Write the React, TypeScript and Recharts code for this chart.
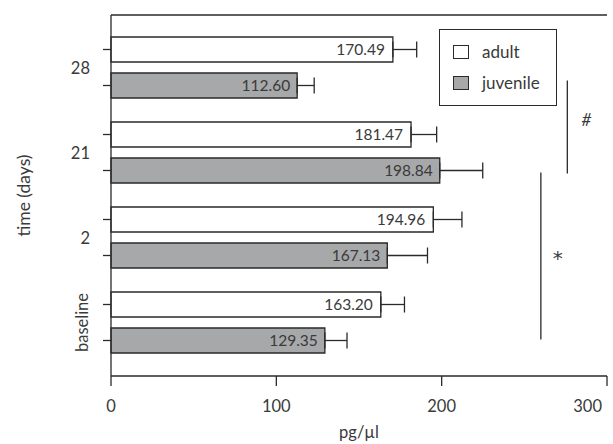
import React from 'react';
import { BarChart, Bar, XAxis, YAxis, ErrorBar, LabelList, Legend, ReferenceLine, Label } from 'recharts';

const categories = ['28', '21', '2', 'baseline'];
const adultValues = [170.49, 181.47, 194.96, 163.2];
const juvenileValues = [112.6, 198.84, 167.13, 129.35];
const adultErrors = [14.4, 15.5, 17.3, 14.3];
const juvenileErrors = [10.3, 26, 24.3, 13.4];
const xTicks = [0, 100, 200, 300];

const data = categories.map((c, i) => ({
  cat: c,
  adult: adultValues[i],
  juvenile: juvenileValues[i],
  adultErr: [0, adultErrors[i]],
  juvenileErr: [0, juvenileErrors[i]],
}));

const FONT = 'Lato, "Noto Sans", sans-serif';
const TEXT = '#3a3a3a';
const LINE = '#2a2a2a';
const GRAY = '#a7a8aa';

const YTick = (props: any) => {
  const { x, y, payload } = props;
  const axisX = x + 21;
  const isBase = payload.value === 'baseline';
  return (
    <g>
      <line x1={axisX - 8} x2={axisX} y1={y - 18} y2={y - 18} stroke={LINE} strokeWidth={1.3} />
      <line x1={axisX - 8} x2={axisX} y1={y + 18} y2={y + 18} stroke={LINE} strokeWidth={1.3} />
      {isBase ? (
        <text
          x={x - 8}
          y={y}
          transform={`rotate(-90, ${x - 8}, ${y})`}
          textAnchor="middle"
          dominantBaseline="central"
          fontSize={16.5}
          fontFamily={FONT}
          fill={TEXT}
        >
          {payload.value}
        </text>
      ) : (
        <text x={x} y={y} textAnchor="end" dominantBaseline="central" fontSize={16.5} fontFamily={FONT} fill={TEXT}>
          {payload.value}
        </text>
      )}
    </g>
  );
};

const XTick = (props: any) => {
  const { x, y, payload, index } = props;
  const last = index === xTicks.length - 1;
  return (
    <text
      x={last ? x + 1 : x}
      y={y}
      dy="0.71em"
      textAnchor={last ? 'end' : 'middle'}
      fontSize={16.5}
      fontFamily={FONT}
      fill={TEXT}
    >
      {payload.value}
    </text>
  );
};

const YTitle = (props: any) => {
  const { viewBox } = props;
  const cx = viewBox.x + 23;
  const cy = viewBox.y + viewBox.height / 2;
  return (
    <text
      x={cx}
      y={cy}
      transform={`rotate(-90, ${cx}, ${cy})`}
      textAnchor="middle"
      dominantBaseline="central"
      fontSize={17.5}
      fontFamily={FONT}
      fill={TEXT}
    >
      time (days)
    </text>
  );
};

const annot = (dy1: number, dy2: number, sym: string, dx: number, symY: number, font: string, size: number, italic: boolean) => (props: any) => {
  const { x1, y1, x2, y2 } = props;
  if (x1 == null) return <g />;
  const a = y1 + dy1;
  const b = y2 + dy2;
  return (
    <g>
      <line x1={x1} x2={x2} y1={a} y2={b} stroke={LINE} strokeWidth={1.3} />
      <text
        x={x1 + dx}
        y={(a + b) / 2 + symY}
        textAnchor="middle"
        fontSize={size}
        fontFamily={font}
        fontStyle={italic ? 'italic' : 'normal'}
        fill={TEXT}
      >
        {sym}
      </text>
    </g>
  );
};

const LegendBox = () => (
  <div
    style={{
      width: 116,
      height: 75,
      border: `1.5px solid ${LINE}`,
      fontFamily: FONT,
      fontSize: 17,
      color: TEXT,
      position: 'relative',
      background: '#fff',
    }}
  >
    {[
      { name: 'adult', fill: '#fff', top: 15 },
      { name: 'juvenile', fill: GRAY, top: 46 },
    ].map((it) => (
      <div key={it.name} style={{ position: 'absolute', left: 13, top: it.top, display: 'flex', alignItems: 'center' }}>
        <div style={{ width: 14, height: 12, border: `1.3px solid ${LINE}`, background: it.fill }} />
        <span style={{ marginLeft: 13, lineHeight: '14px' }}>{it.name}</span>
      </div>
    ))}
  </div>
);

export default function App() {
  return (
    <div style={{ position: 'absolute', left: 0, top: 0, background: '#fff' }}>
      <BarChart
        width={613}
        height={444}
        data={data}
        layout="vertical"
        margin={{ top: 14, right: 6, left: 0, bottom: 0 }}
        barSize={25}
        barGap={11}
      >
        <XAxis
          type="number"
          domain={[0, 300]}
          ticks={xTicks}
          tickSize={10}
          tickMargin={14}
          height={68}
          stroke={LINE}
          strokeWidth={1.3}
          tick={<XTick />}
        >
          <Label value="pg/µl" position="insideBottom" offset={6} fontSize={16.5} fontFamily={FONT} fill={TEXT} />
        </XAxis>
        <XAxis xAxisId="top" orientation="top" type="number" domain={[0, 300]} tick={false} tickLine={false} height={1} stroke={LINE} strokeWidth={1.3} />
        <YAxis
          type="category"
          dataKey="cat"
          width={111}
          padding={{ top: 10, bottom: 11 }}
          tickLine={false}
          tickSize={8}
          tickMargin={13}
          tick={<YTick />}
          stroke={LINE}
          strokeWidth={1.3}
          interval={0}
        >
          <Label content={<YTitle />} />
        </YAxis>
        <YAxis yAxisId="right" orientation="right" type="number" domain={[0, 1]} width={0} tick={false} tickLine={false} stroke={LINE} strokeWidth={1.3} />
        <Legend
          layout="vertical"
          align="center"
          verticalAlign="middle"
          content={<LegendBox />}
          wrapperStyle={{ left: 439, top: 29, width: 118, height: 77 }}
        />
        <Bar dataKey="adult" name="adult" fill="#fff" stroke={LINE} strokeWidth={1.3} isAnimationActive={false}>
          <ErrorBar dataKey="adultErr" direction="x" width={8} stroke={LINE} strokeWidth={1.3} />
          <LabelList
            dataKey="adult"
            position="insideRight"
            offset={8}
            formatter={(v: any) => Number(v).toFixed(2)}
            fontSize={15.5}
            fontFamily={FONT}
            fill={TEXT}
          />
        </Bar>
        <Bar dataKey="juvenile" name="juvenile" fill={GRAY} stroke={LINE} strokeWidth={1.3} isAnimationActive={false}>
          <ErrorBar dataKey="juvenileErr" direction="x" width={8} stroke={LINE} strokeWidth={1.3} />
          <LabelList
            dataKey="juvenile"
            position="insideRight"
            offset={7}
            formatter={(v: any) => Number(v).toFixed(2)}
            fontSize={15.5}
            fontFamily={FONT}
            fill={TEXT}
          />
        </Bar>
        <ReferenceLine
          segment={[{ x: 276, y: '28' }, { x: 276, y: '21' }]}
          shape={annot(13, 21, '#', 19, -1.5, FONT, 17, true)}
          ifOverflow="visible"
        />
        <ReferenceLine
          segment={[{ x: 260, y: '21' }, { x: 260, y: 'baseline' }]}
          shape={annot(20, 17, '*', 17, 9, '"DejaVu Sans", sans-serif', 20, false)}
          ifOverflow="visible"
        />
      </BarChart>
    </div>
  );
}
